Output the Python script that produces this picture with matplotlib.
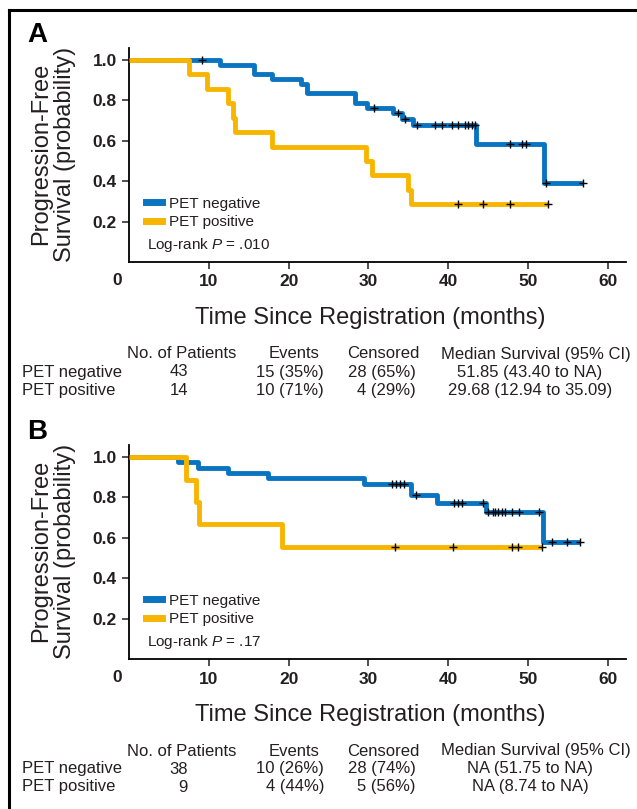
import numpy as np
import matplotlib
matplotlib.use("Agg")
import matplotlib.pyplot as plt
from matplotlib import font_manager

# fonts: narrow one for the x label / table, like the journal style
names = set(f.name for f in font_manager.fontManager.ttflist)
NARROW = "Liberation Sans Narrow" if "Liberation Sans Narrow" in names else "Liberation Sans"
plt.rcParams["font.family"] = ["Liberation Sans", "DejaVu Sans"]
plt.rcParams["mathtext.fontset"] = "custom"
plt.rcParams["mathtext.it"] = "Liberation Sans:italic"
plt.rcParams["mathtext.rm"] = "Liberation Sans"

BLUE = "#0a74c0"
YELLOW = "#f8b500"
TXT = "#231f20"

# ---- panel A data ----
a_neg_times = [11.4, 15.6, 17.9, 21.6, 22.3, 28.3, 29.8, 33.1, 34.2, 35.6, 43.5, 52.0]
a_neg_surv = [0.977, 0.93, 0.907, 0.884, 0.837, 0.79, 0.765, 0.737, 0.709, 0.68, 0.585, 0.39]
a_neg_cens = [9.1, 30.7, 33.7, 34.6, 36.1, 38.3, 39.2, 40.5, 41.2, 42.1, 42.5, 43.0, 43.4,
              47.8, 49.3, 49.8, 52.3, 56.9]
a_pos_times = [7.5, 9.7, 12.4, 13.0, 13.3, 17.9, 29.7, 30.5, 34.9, 35.3]
a_pos_surv = [0.929, 0.857, 0.786, 0.714, 0.643, 0.571, 0.5, 0.429, 0.357, 0.286]
a_pos_cens = [41.2, 44.4, 47.7, 52.5]
a_pval = ".010"

# ---- panel B data ----
b_neg_times = [6.1, 8.6, 12.4, 17.4, 29.4, 35.4, 38.6, 44.8, 51.9]
b_neg_surv = [0.974, 0.947, 0.921, 0.895, 0.868, 0.81, 0.775, 0.727, 0.582]
b_neg_cens = [32.9, 33.4, 33.9, 34.4, 36.0, 40.7, 41.2, 41.7, 44.4, 45.0, 45.6, 45.9, 46.2,
              46.7, 47.1, 48.0, 48.9, 51.4, 53.0, 54.9, 56.5]
b_pos_times = [7.1, 8.4, 8.8, 19.1]
b_pos_surv = [0.889, 0.778, 0.667, 0.556]
b_pos_cens = [33.3, 40.6, 48.0, 48.7, 51.8]
b_pval = ".17"

groups = ["PET negative", "PET positive"]
table_head = ["No. of Patients", "Events", "Censored", "Median Survival (95% CI)"]
a_table = [["43", "15 (35%)", "28 (65%)", "51.85 (43.40 to NA)"],
           ["14", "10 (71%)", "4 (29%)", "29.68 (12.94 to 35.09)"]]
b_table = [["38", "10 (26%)", "28 (74%)", "NA (51.75 to NA)"],
           ["9", "4 (44%)", "5 (56%)", "NA (8.74 to NA)"]]

W, H = 637, 809
fig = plt.figure(figsize=(W / 100, H / 100), dpi=100)


def fx(px):
    return px / W


def fy(py):
    return 1 - py / H


def km(ax, times, surv, cens, color, z):
    t = np.r_[0, times, max(cens)]
    s = np.r_[1.0, surv, surv[-1]]
    ax.step(t, s, where="post", color=color, lw=3.5, solid_capstyle="butt", zorder=z)
    idx = np.searchsorted(t, cens, side="right") - 1
    ax.plot(cens, s[idx], ls="none", marker="+", ms=6, mew=1.0, color="black", zorder=5)


def panel(yoff, letter, neg, pos, pval, table):
    ax = fig.add_axes([fx(129.2), fy(262 + yoff), fx(626 - 129.2), 214 / H])
    km(ax, *neg, BLUE, 2)
    km(ax, *pos, YELLOW, 3)
    ax.set_xlim(0, 62.3)
    ax.set_ylim(0, 1.06)
    for sp in ["top", "right"]:
        ax.spines[sp].set_visible(False)
    for sp in ["left", "bottom"]:
        ax.spines[sp].set_linewidth(1.3)
    ax.set_xticks([10, 20, 30, 40, 50, 60])
    ax.set_yticks([0.2, 0.4, 0.6, 0.8, 1.0])
    ax.set_yticklabels(["0.2", "0.4", "0.6", "0.8", "1.0"])
    ax.tick_params(length=5, width=1.1, pad=4, labelsize=12.5, colors=TXT)
    for lb in ax.get_xticklabels() + ax.get_yticklabels():
        lb.set_fontweight("bold")
    ax.annotate("0", xy=(0, 0), xycoords="data", xytext=(-12, -19),
                textcoords="offset pixels", ha="center", va="center",
                fontsize=12.5, fontweight="bold", color=TXT, annotation_clip=False)
    h1, = ax.plot([], [], color=BLUE, lw=5)
    h2, = ax.plot([], [], color=YELLOW, lw=5)
    ax.legend([h1, h2], groups, loc="center left", bbox_to_anchor=(0.034, 0.229),
              frameon=False, fontsize=11, handlelength=1.05, handletextpad=0.45,
              labelspacing=0.3, borderpad=0, borderaxespad=0, labelcolor=TXT)
    ax.text(0.036, 0.079, "Log-rank $P$ = " + pval, transform=ax.transAxes,
            ha="left", va="center", fontsize=11, color=TXT)

    fig.text(fx(37), fy(35 + yoff), letter, fontsize=20, fontweight="bold",
             ha="center", va="center", color="black")
    fig.text(fx(53), fy(154 + yoff), "Progression-Free\nSurvival (probability)",
             rotation=90, ha="center", va="center", fontsize=17, color=TXT,
             linespacing=1.15)
    fig.text(fx(370), fy(318 + yoff), "Time Since Registration (months)",
             family=NARROW, fontsize=17, ha="center", va="center", color=TXT)

    # summary table
    ty = [354 + yoff, 372 + yoff, 390 + yoff]
    hx = [182, 294, 383, 536]
    for x, h in zip(hx, table_head):
        fig.text(fx(x), fy(ty[0]), h, family=NARROW, fontsize=12, ha="center",
                 va="center", color=TXT)
    for r, (g, row) in enumerate(zip(groups, table)):
        y = fy(ty[r + 1])
        fig.text(fx(22), y, g, family=NARROW, fontsize=12, ha="left", va="center", color=TXT)
        fig.text(fx(188), y, row[0], family=NARROW, fontsize=12, ha="right", va="center", color=TXT)
        fig.text(fx(324), y, row[1], family=NARROW, fontsize=12, ha="right", va="center", color=TXT)
        fig.text(fx(416), y, row[2], family=NARROW, fontsize=12, ha="right", va="center", color=TXT)
        fig.text(fx(530), y, row[3], family=NARROW, fontsize=12, ha="center", va="center", color=TXT)


panel(0, "A", (a_neg_times, a_neg_surv, a_neg_cens), (a_pos_times, a_pos_surv, a_pos_cens),
      a_pval, a_table)
panel(397, "B", (b_neg_times, b_neg_surv, b_neg_cens), (b_pos_times, b_pos_surv, b_pos_cens),
      b_pval, b_table)

# outer frame (top and left edges)
fig.add_artist(plt.Line2D([fx(9), 1], [fy(10), fy(10)], color="black", lw=2.2))
fig.add_artist(plt.Line2D([fx(9), fx(9)], [fy(10), 0], color="black", lw=2.2))

fig.savefig("out.png", dpi=100)
